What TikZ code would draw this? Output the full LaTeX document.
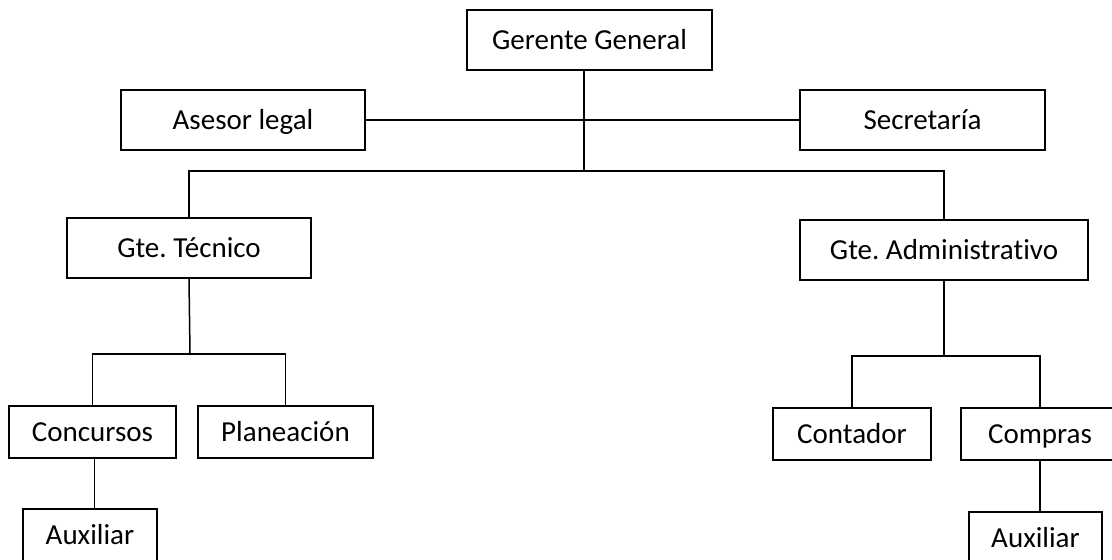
\documentclass[tikz,border=0pt]{standalone}
\usepackage{fontspec}
\setmainfont{Carlito}[Ligatures=NoCommon]
\usepackage{tikz}
\frenchspacing

\begin{document}
\begin{tikzpicture}[x=0.5pt,y=-0.5pt]
\tikzstyle{puesto} =[draw, line width=0.75pt, inner sep=0pt, minimum height=30pt, text height=9.3pt, text depth=0pt, font=\fontsize{14.5}{17}\selectfont]
\tikzstyle{linea} =[line width=0.75pt]

\useasboundingbox (0,0) rectangle (1112,560);
\clip (0,0) rectangle (1112,560);

\node[puesto, minimum width=122.5pt](gg) at (589.5,40){Gerente General};
\node[puesto, minimum width=122pt](asesor) at (243,120){Asesor legal};
\node[puesto, minimum width=122.5pt](secre) at (922.5,120){Secretaría};
\node[puesto, minimum width=122pt](gtec) at (189,248){Gte. Técnico};
\node[puesto, minimum width=144pt](gadm) at (944,250){Gte. Administrativo};
\node[puesto, minimum width=83.5pt, minimum height=26pt](conc) at (92.5,432){Concursos};
\node[puesto, minimum width=87.5pt, minimum height=26pt](plan) at (285.5,432){Planeación};
\node[puesto, minimum width=67pt, minimum height=26pt](aux1) at (90,535){Auxiliar};
\node[puesto, minimum width=79pt, minimum height=26pt](cont) at (852,434){Contador};
\node[puesto, minimum width=79pt, minimum height=26pt](comp) at (1040,434){Compras};
\node[puesto, minimum width=66.5pt, minimum height=26pt](aux2) at (1035.5,538){Auxiliar};

\coordinate (bus) at (584,171);
\coordinate (bustec) at (190,354);
\coordinate (busadm) at (944,356);

% gerencia
\draw[linea] (gg.south -| bus) -- (bus);
\draw[linea] (asesor.east) -- (secre.west);
\draw[linea] (gtec.north) -- (gtec.north |- bus) -- (gadm.north |- bus) -- (gadm.north);

% area tecnica
\draw[linea] (gtec.south) -- (bustec);
\draw[linea] (conc.north) -- (conc.north |- bustec) -- (plan.north |- bustec) -- (plan.north);
\draw[linea] ([xshift=1pt]conc.south) -- ([xshift=1pt]conc.south |- aux1.north);

% area administrativa
\draw[linea] (gadm.south) -- (busadm);
\draw[linea] (cont.north) -- (cont.north |- busadm) -- (comp.north |- busadm) -- (comp.north);
\draw[linea] (comp.south) -- (comp.south |- aux2.north);
\end{tikzpicture}
\end{document}
